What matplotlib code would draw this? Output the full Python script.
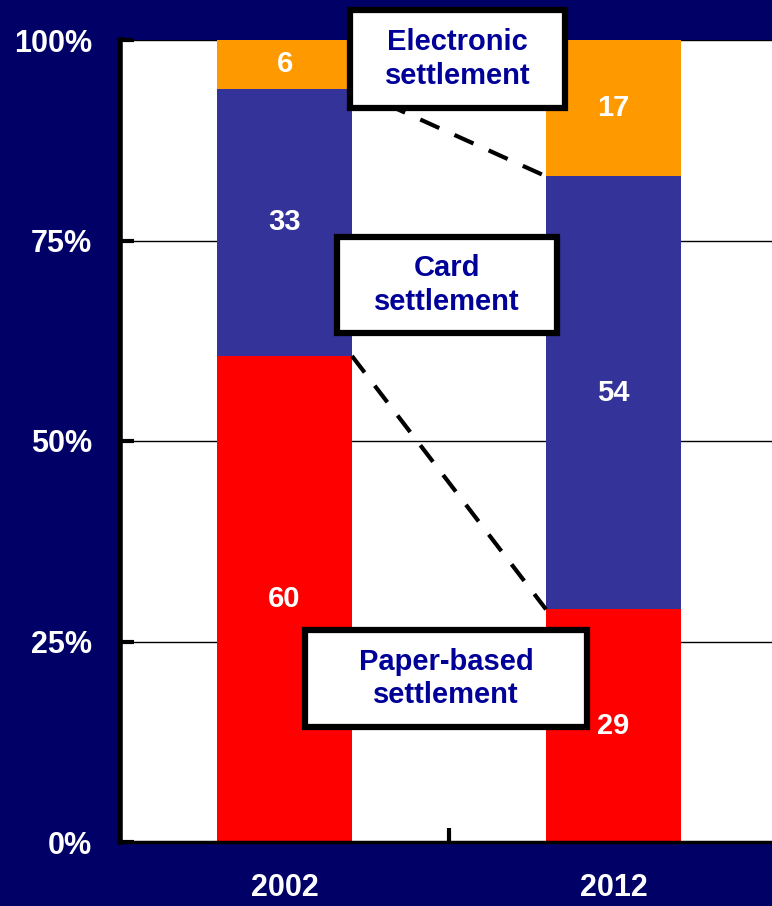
import matplotlib
matplotlib.use("Agg")
import matplotlib.pyplot as plt
from matplotlib.patches import Rectangle
import numpy as np

plt.rcParams['font.family'] = ['Liberation Sans', 'DejaVu Sans']

years = ["2002", "2012"]
paper = [60, 29]
card = [33, 54]
electronic = [6, 17]
yticklabels = ["0%", "25%", "50%", "75%", "100%"]
series_names = ["Paper-based\nsettlement", "Card\nsettlement", "Electronic\nsettlement"]

W, H = 772, 906
fig = plt.figure(figsize=(W / 100, H / 100), dpi=100)
bg = "#000066"
fig.patch.set_facecolor(bg)

ax = fig.add_axes([120 / W, (H - 842) / H, 658 / W, 802 / H])
ax.set_facecolor("white")

x = np.arange(len(years))
tot = np.array(paper) + np.array(card) + np.array(electronic)
p = np.array(paper) / tot
c = np.array(card) / tot
e = np.array(electronic) / tot
bw = 0.41
colors = ["#FF0000", "#333399", "#FF9900"]
ax.bar(x, p, bw, color=colors[0], zorder=2)
ax.bar(x, c, bw, bottom=p, color=colors[1], zorder=2)
ax.bar(x, e, bw, bottom=p + c, color=colors[2], zorder=2)

for i in range(len(years)):
    for vals, bottom, raw in ((p, 0, paper), (c, p, card), (e, p + c, electronic)):
        b = bottom[i] if np.ndim(bottom) else bottom
        ax.text(x[i], b + vals[i] / 2, str(raw[i]), ha="center", va="center",
                color="white", fontsize=21, fontweight="bold", zorder=4)

# series connecting lines
for tops in (p, p + c):
    ax.plot([x[0] + bw / 2, x[1] - bw / 2], [tops[0], tops[1]], color="black",
            lw=3, ls=(0, (5, 4)), zorder=3)

ax.set_xlim(-0.5, 1.5)
ax.set_ylim(0, 1)
ax.set_yticks([0, 0.25, 0.5, 0.75, 1.0])
ax.set_yticklabels(yticklabels)
ax.set_xticks(x)
ax.set_xticklabels(years)
ax.set_xticks([0.5], minor=True)
ax.tick_params(axis="y", direction="in", length=10, width=3, colors="black",
               labelcolor="white", labelsize=22, pad=20)
ax.tick_params(axis="x", which="major", length=0, labelcolor="white", labelsize=22, pad=22)
ax.tick_params(axis="x", which="minor", direction="in", length=10, width=3, color="black")
for lab in ax.get_yticklabels() + ax.get_xticklabels():
    lab.set_fontweight("bold")
ax.yaxis.grid(True, color="black", lw=1, zorder=1)
for s in ("top", "right"):
    ax.spines[s].set_visible(False)
ax.spines["left"].set_linewidth(4)
ax.spines["bottom"].set_linewidth(2.5)
ax.spines["left"].set_zorder(5)
ax.spines["bottom"].set_zorder(5)

# label boxes (pixel layout)
boxes = [(305, 630, 587, 727), (337, 237, 557, 333), (350, 10, 565, 108)]
for (x0, y0, x1, y1), name in zip(boxes, series_names):
    r = Rectangle((x0 / W, 1 - y1 / H), (x1 - x0) / W, (y1 - y0) / H,
                  transform=fig.transFigure, facecolor="white", edgecolor="black",
                  lw=4.5, zorder=10)
    fig.patches.append(r)
    fig.text((x0 + x1) / 2 / W, 1 - (y0 + y1) / 2 / H, name, ha="center", va="center",
             color="#000099", fontsize=21, fontweight="bold", linespacing=1.25, zorder=11)

fig.savefig("out.png", dpi=100, facecolor=bg)
